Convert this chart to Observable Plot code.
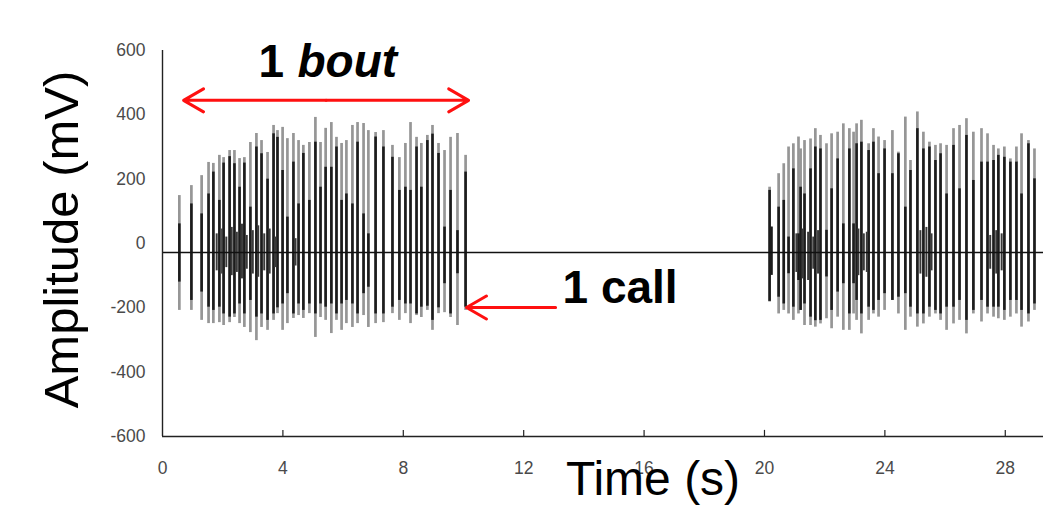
<!DOCTYPE html>
<html>
<head>
<meta charset="utf-8">
<script src="https://cdn.jsdelivr.net/npm/d3@7"></script>
<script src="https://cdn.jsdelivr.net/npm/@observablehq/plot@0.6"></script>
<style>
  body { margin: 0; background: #fff; }
  #chart svg { display: block; }
</style>
</head>
<body>
<div id="chart"></div>
<script>
// Bout 1: one vertical stroke per call. Time in s, full excursion (hi/lo)
// and the dense core of the waveform (coreHi/coreLo), all in mV.
const bout1Time = [0.56,0.96,1.30,1.53,1.69,1.89,2.03,2.23,2.39,2.56,
  2.72,2.92,3.12,3.29,3.49,3.69,3.82,3.99,4.15,4.35,
  4.52,4.68,4.88,5.08,5.25,5.42,5.61,5.78,5.95,6.11,
  6.31,6.48,6.68,6.84,7.08,7.34,7.64,7.87,8.07,8.24,
  8.44,8.60,8.80,8.97,9.17,9.37,9.57,9.80,10.07];
const bout1Hi = [149,180,211,252,249,274,267,289,289,264,
  267,314,342,320,283,367,351,361,326,342,
  320,305,314,392,314,358,376,330,311,320,
  367,376,373,351,345,351,305,267,311,376,
  330,311,336,367,311,289,330,342,274];
const bout1Lo = [-208,-208,-239,-249,-249,-246,-255,-246,-230,-249,
  -261,-277,-302,-261,-270,-239,-218,-270,-249,-233,
  -224,-233,-218,-292,-230,-239,-280,-239,-270,-249,
  -261,-249,-224,-261,-249,-246,-218,-239,-218,-249,
  -224,-230,-208,-270,-218,-215,-230,-255,-208];
const bout1CoreHi = [61,123,92,154,222,134,250,270,248,175,
  250,113,300,279,200,341,330,227,82,253,
  123,280,134,315,175,237,237,300,134,154,
  123,315,92,30,331,300,268,165,175,165,
  300,175,320,340,280,51,165,40,222];
const bout1CoreLo = [-120,-177,-151,-198,-208,-198,-219,-229,-219,-188,
  -219,-177,-229,-219,-239,-219,-200,-188,-156,-219,
  -188,-208,-188,-219,-188,-198,-188,-219,-188,-177,
  -188,-219,-156,-136,-219,-219,-198,-177,-188,-188,
  -219,-198,-195,-239,-200,-125,-219,-94,-198];

// Bout 2, same layout
const bout2Time = [20.17,20.23,20.47,20.64,20.80,20.96,21.13,21.20,21.33,21.53,
  21.69,21.86,22.06,22.23,22.43,22.62,22.82,22.96,23.06,23.22,
  23.46,23.62,23.79,23.99,24.25,24.45,24.68,24.85,25.08,25.28,
  25.48,25.68,25.85,26.05,26.28,26.48,26.71,26.94,27.21,27.41,
  27.61,27.77,27.97,28.17,28.37,28.54,28.77,28.97];
const bout2Hi = [175,51,217,248,300,310,331,294,320,325,
  357,336,310,341,346,372,357,346,372,383,
  310,357,331,320,351,284,393,258,409,346,
  315,305,310,305,357,367,388,346,357,341,
  305,294,300,263,300,341,320,294];
const bout2Lo = [-182,-99,-219,-208,-219,-239,-219,-208,-255,-255,
  -260,-250,-234,-265,-229,-270,-270,-219,-239,-281,
  -239,-219,-229,-208,-177,-219,-270,-229,-260,-250,
  -229,-219,-239,-270,-250,-239,-281,-219,-244,-219,
  -229,-234,-239,-229,-219,-260,-244,-208];
const bout2CoreHi = [165,51,113,134,20,232,30,175,154,232,
  300,294,41,170,263,61,294,61,310,315,
  289,315,217,294,217,279,113,227,357,294,
  300,258,279,154,305,170,336,196,253,253,
  258,274,268,253,253,154,310,201];
const bout2CoreLo = [-180,-99,-167,-188,-94,-198,-115,-208,-188,-229,
  -240,-239,-104,-208,-151,-125,-219,-125,-177,-219,
  -198,-208,-177,-156,-177,-167,-156,-198,-219,-219,
  -198,-208,-219,-198,-198,-177,-239,-208,-177,-198,
  -198,-198,-208,-177,-177,-208,-219,-188];

// Low-amplitude clutter sitting on the baseline between the main strokes
const minorTime = [1.80,1.98,2.12,2.30,2.47,2.64,2.80,3.00,3.18,3.38,3.56,3.74,4.42,
  21.06,21.27,21.45,21.62,21.78,23.12,23.30,23.40,25.18,25.38,25.55,27.50,27.70,27.88];
const minorHi = [30,45,20,50,35,60,25,40,55,30,45,20,15,
  30,45,35,20,40,45,30,35,40,50,30,25,40,30];
const minorLo = [-85,-95,-75,-100,-90,-110,-80,-95,-105,-85,-95,-75,-70,
  -90,-110,-115,-80,-95,-100,-85,-90,-95,-105,-85,-80,-95,-85];

// Recording baseline (mV)
const baseline = -28;

// Axis ticks
const yTicks = [-600, -400, -200, 0, 200, 400, 600];
const xTicks = [0, 4, 8, 12, 16, 20, 24, 28];

// Annotations: the span of one bout and the position of one call
const boutSpan = [0.70, 10.17];
const boutArrowY = 445;
const boutLabelX = 3.19;
const boutLabelY = 563;
const callArrowFrom = 13.06;
const callArrowTo = 10.10;
const callArrowY = -199;
const callLabelX = 13.29;
const callLabelY = -140;

const rows = (t, hi, lo, coreHi, coreLo) =>
  t.map((d, i) => ({t: d, hi: hi[i], lo: lo[i], coreHi: coreHi[i], coreLo: coreLo[i]}));
const calls = [
  ...rows(bout1Time, bout1Hi, bout1Lo, bout1CoreHi, bout1CoreLo),
  ...rows(bout2Time, bout2Hi, bout2Lo, bout2CoreHi, bout2CoreLo)
];
const minor = minorTime.map((t, i) => ({t, hi: minorHi[i], lo: minorLo[i]}));

const boutMid = (boutSpan[0] + boutSpan[1]) / 2;
const red = "#ff1010";
const sans = "'Liberation Sans', Arial, sans-serif";

const chart = Plot.plot({
  width: 1043,
  height: 513,
  marginLeft: 162,
  marginRight: 0,
  marginTop: 50,
  marginBottom: 77,
  style: {background: "#fff", fontFamily: sans, overflow: "visible"},
  x: {domain: [0, 29.27]},
  y: {domain: [-600, 600]},
  marks: [
    // waveform strokes: light full excursion, dark core
    Plot.ruleX(calls, {x: "t", y1: "lo", y2: "hi", stroke: "#969696", strokeWidth: 2.7}),
    Plot.ruleX(calls, {x: "t", y1: "coreLo", y2: "coreHi", stroke: "#1c1c1c", strokeWidth: 2.6}),
    Plot.ruleX(minor, {x: "t", y1: "lo", y2: "hi", stroke: "#3a3a3a", strokeWidth: 2}),
    Plot.ruleY([baseline], {stroke: "#111", strokeWidth: 1.6}),

    // axis frame
    Plot.ruleX([0], {stroke: "#222", strokeWidth: 1.4}),
    Plot.ruleY([-600], {stroke: "#222", strokeWidth: 1.4}),
    Plot.ruleX(xTicks.filter(d => d > 0), {x: d => d, y1: -600, y2: -581, stroke: "#222", strokeWidth: 1.2}),
    Plot.axisY({ticks: yTicks, tickFormat: d => String(d), tickSize: 0, tickPadding: 17,
      fontSize: 17.5, fill: "#4a4a4a", label: null}),
    Plot.axisX({ticks: xTicks, tickFormat: d => String(d), tickSize: 0, tickPadding: 25,
      fontSize: 17.5, fill: "#4a4a4a", label: null}),

    // axis titles
    Plot.text(["Amplitude (mV)"], {frameAnchor: "left", dx: -100, dy: -4, rotate: -90,
      fontSize: 49, fill: "#000", textAnchor: "middle"}),
    Plot.text(["Time (s)"], {frameAnchor: "bottom", dx: 50, dy: 58,
      fontSize: 48, fill: "#000", textAnchor: "middle"}),

    // "1 bout" double-headed arrow
    Plot.arrow([boutSpan[0], boutSpan[1]], {x1: () => boutMid, x2: d => d, y1: boutArrowY, y2: boutArrowY,
      stroke: red, strokeWidth: 3, headLength: 11.5, headAngle: 60}),
    Plot.text(["1"], {x: boutLabelX, y: boutLabelY, textAnchor: "start",
      fontSize: 46, fontWeight: "bold", fill: "#000"}),
    Plot.text(["bout"], {x: boutLabelX, y: boutLabelY, dx: 39, textAnchor: "start",
      fontSize: 46, fontWeight: "bold", fontStyle: "italic", fill: "#000"}),

    // "1 call" arrow
    Plot.arrow([callArrowTo], {x1: callArrowFrom, x2: d => d, y1: callArrowY, y2: callArrowY,
      stroke: red, strokeWidth: 3, headLength: 11.5, headAngle: 60}),
    Plot.text(["1 call"], {x: callLabelX, y: callLabelY, textAnchor: "start",
      fontSize: 46, fontWeight: "bold", fill: "#000"})
  ]
});

document.getElementById("chart").append(chart);
</script>
</body>
</html>
